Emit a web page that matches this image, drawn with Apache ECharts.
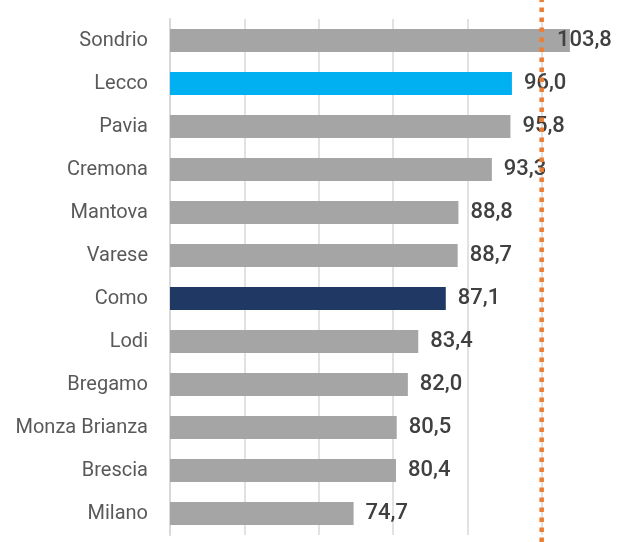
<!DOCTYPE html>
<html>
<head>
<meta charset="utf-8">
<script src="https://cdn.jsdelivr.net/npm/echarts@6/dist/echarts.min.js"></script>
<style>
  html, body { margin: 0; padding: 0; background: #fff; }
  #chart { width: 625px; height: 542px; }
</style>
</head>
<body>
<div id="chart"></div>
<script>
// province e valori (dall'alto verso il basso)
var provinces = ['Sondrio', 'Lecco', 'Pavia', 'Cremona', 'Mantova', 'Varese', 'Como', 'Lodi', 'Bregamo', 'Monza Brianza', 'Brescia', 'Milano'];
var values = [103.8, 96.0, 95.8, 93.3, 88.8, 88.7, 87.1, 83.4, 82.0, 80.5, 80.4, 74.7];
var highlight = { 'Lecco': '#00b0f0', 'Como': '#1f3864' };
var refValue = 100;
var axisMin = 50, axisMax = 110, axisStep = 10;

var chart = echarts.init(document.getElementById('chart'));

var barData = [];
for (var i = 0; i < values.length; i++) {
    var item = {
        value: values[i],
        itemStyle: { color: highlight[provinces[i]] || '#a5a5a5' }
    };
    // etichetta che sborda: spostata dentro come in Excel
    if (values[i] > 100) {
        item.label = { distance: -13 };
    }
    barData.push(item);
}

var option = {
    animation: false,
    grid: [
        { left: 170, right: 9, top: 19, bottom: 7 },
        { left: 170, right: 9, top: 0, bottom: 0 }
    ],
    xAxis: [
        {
            type: 'value', gridIndex: 0,
            min: axisMin, max: axisMax, interval: axisStep,
            axisLabel: { show: false },
            axisLine: { show: false },
            axisTick: { show: false },
            splitLine: { show: true, showMaxLine: false, lineStyle: { color: '#d9d9d9', width: 1.5 } }
        },
        {
            type: 'value', gridIndex: 1,
            min: axisMin, max: axisMax, show: false
        }
    ],
    yAxis: [
        {
            type: 'category', gridIndex: 0,
            data: provinces,
            inverse: true,
            axisLine: { show: true, lineStyle: { color: '#d9d9d9', width: 2 } },
            axisTick: { show: false },
            splitLine: { show: false },
            axisLabel: {
                color: '#595959',
                fontFamily: 'Roboto',
                fontSize: 20,
                margin: 22
            }
        },
        {
            type: 'value', gridIndex: 1,
            min: 0, max: 1, show: false
        }
    ],
    series: [
        {
            type: 'bar',
            xAxisIndex: 0, yAxisIndex: 0,
            barWidth: 23,
            data: barData,
            label: {
                show: true,
                position: 'right',
                distance: 12,
                color: '#404040',
                fontFamily: 'Roboto',
                fontWeight: 500,
                fontSize: 22,
                formatter: function (p) {
                    return p.value.toFixed(1).replace('.', ',');
                }
            }
        },
        {
            type: 'line',
            xAxisIndex: 1, yAxisIndex: 1,
            symbol: 'none',
            silent: true,
            data: [[refValue, 0], [refValue, 1]],
            lineStyle: { color: '#ed7d31', width: 4.5, type: [4.5, 5.5] },
            z: 5
        }
    ]
};

chart.setOption(option);
</script>
</body>
</html>
